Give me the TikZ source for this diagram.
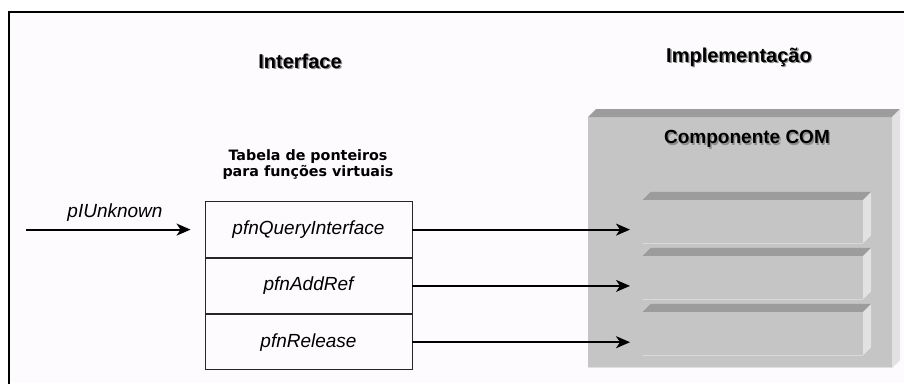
\documentclass[tikz,border=0pt]{standalone}
\usepackage{fontspec}
\setmainfont{Liberation Sans}
\newfontfamily\dvfont{DejaVu Sans}
\usetikzlibrary{arrows.meta}
\definecolor{bgc}{HTML}{FDFBFD}
\definecolor{facec}{HTML}{C5C5C5}
\definecolor{topc}{HTML}{9C9C9C}
\definecolor{sidec}{HTML}{E2E2E2}
\newcommand{\shtext}[1]{\makebox[0pt][l]{\hspace{1.4pt}\raisebox{-1.4pt}{\textcolor{black!45}{#1}}}#1}
\begin{document}
\begin{tikzpicture}[x=1pt,y=-1pt,
  heading/.style={inner sep=0pt,font=\fontsize{20}{24}\selectfont\bfseries},
  cell/.style={draw=black!85,line width=0.9pt,minimum width=207pt,minimum height=55.4pt,inner sep=0pt,
    font=\fontsize{19}{22}\selectfont\itshape},
  ibox/.style={fill=facec,minimum width=220pt,minimum height=43pt,inner sep=0pt},
  arr/.style={line width=1.9pt,-{Stealth[length=14pt,width=12pt,inset=4pt]}}]
\useasboundingbox (0,0) rectangle (904,383);
\fill[white] (0,0) rectangle (904,383);
\fill[bgc] (9,12) rectangle (904,383);
\draw[line width=2pt] (9,384) -- (9,12) -- (905,12);

% headings
\node[heading] (hint) at (300,62) {\shtext{Interface}};
\node[heading] (himp) at (739,58) {\shtext{Implementação}};

% component box
\fill[facec] (588,117) rectangle (892,368);
\fill[topc] (588,117) -- (596,109) -- (900,109) -- (892,117) -- cycle;
\fill[sidec] (892,117) -- (900,109) -- (900,360) -- (892,368) -- cycle;
\draw[white!88!black,line width=1pt] (588,367.5) -- (892,367.5);
\node[heading,font=\fontsize{19}{23}\selectfont\bfseries] (comp) at (747,140) {\shtext{Componente COM}};

% inner boxes
\foreach \n/\yc in {b1/221.5, b2/277.5, b3/333.5}{
  \node[ibox] (\n) at (753,\yc) {};
  \fill[topc] (\n.north west) -- ++(8,-8) -- ([shift={(8,-8)}]\n.north east) -- (\n.north east) -- cycle;
  \fill[sidec] (\n.north east) -- ++(8,-8) -- ([shift={(8,-8)}]\n.south east) -- (\n.south east) -- cycle;
  \draw[white!85!black,line width=1pt] ([yshift=-0.5]\n.south west) -- ([yshift=-0.5]\n.south east);
}

% table
\node[align=center,inner sep=0pt,font=\dvfont\bfseries\fontsize{14.3}{15.5}\selectfont] (ttl) at (308,164.5)
  {Tabela de ponteiros\\para funções virtuais};
\node[cell] (q) at (308.5,229.6) {pfnQueryInterface};
\node[cell,anchor=north] (a) at (q.south) {pfnAddRef};
\node[cell,anchor=north] (r) at (a.south) {pfnRelease};

% arrows
\coordinate (pstart) at (26,229.6);
\coordinate (tip) at (630,0);
\draw[arr] (pstart) -- ([xshift=-14pt]q.west);
\node[inner sep=0pt,font=\fontsize{19}{22}\selectfont\itshape] (plab) at (115,213) {pIUnknown};
\draw[arr] (q.east) -- (q.east -| tip);
\draw[arr] (a.east) -- (a.east -| tip);
\draw[arr] (r.east) -- (r.east -| tip);
\end{tikzpicture}
\end{document}
